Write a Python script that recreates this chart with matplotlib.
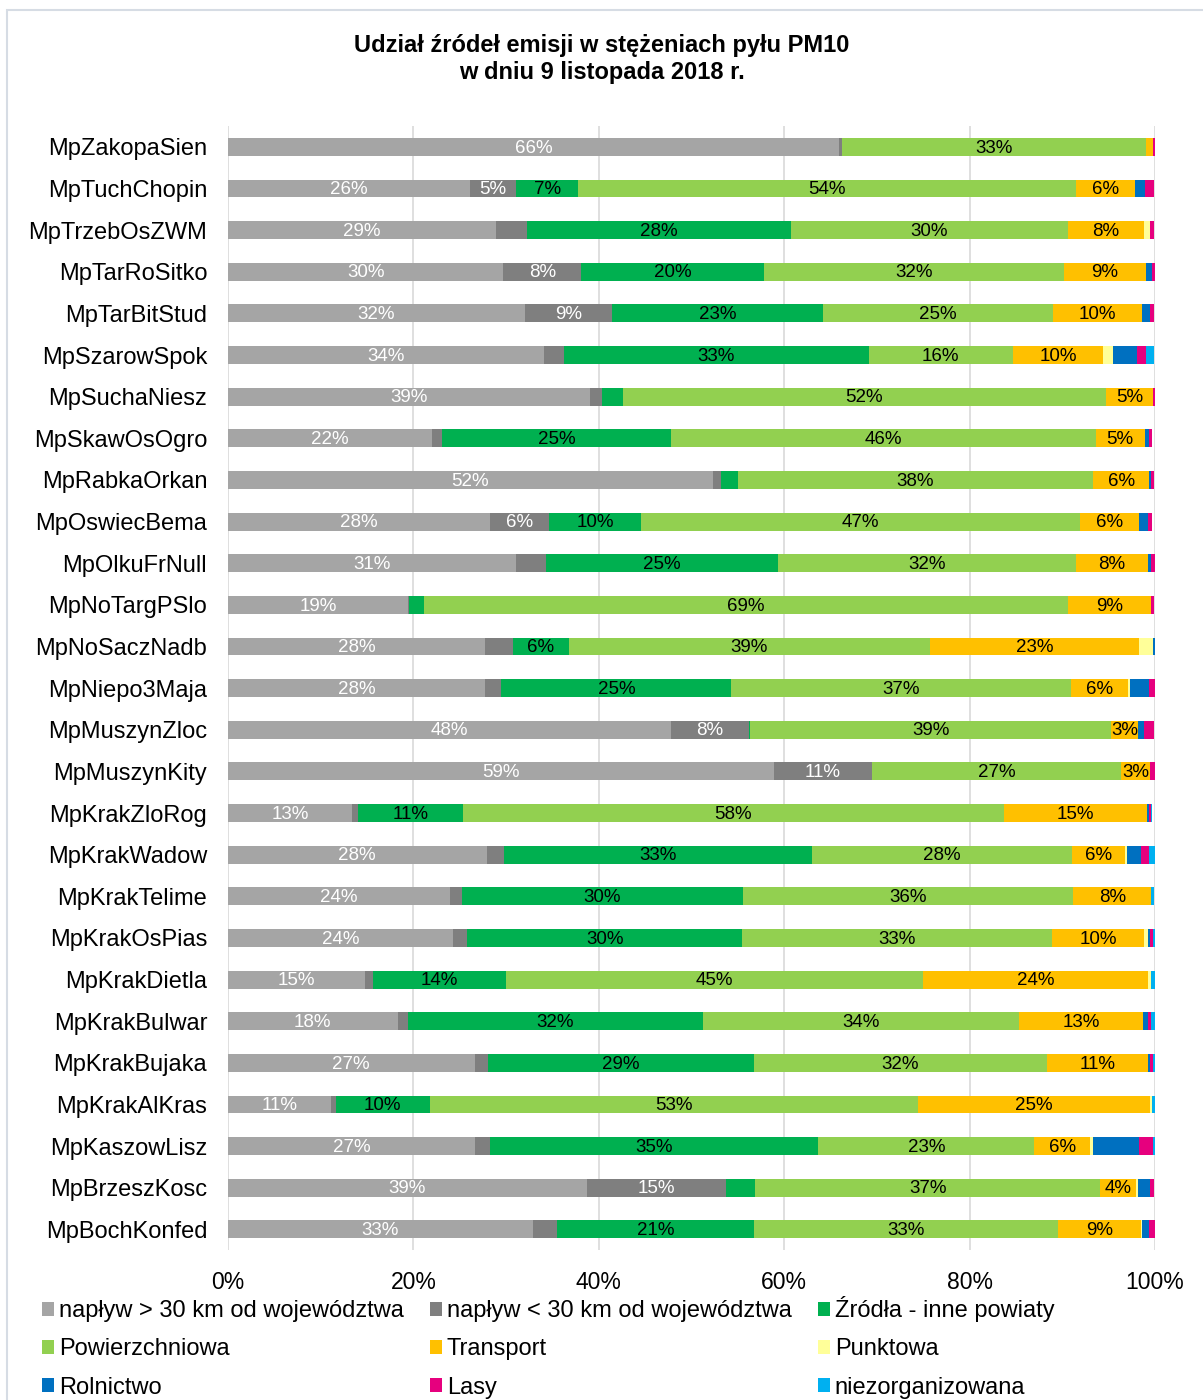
import numpy as np
import matplotlib
matplotlib.use("Agg")
import matplotlib.pyplot as plt
from matplotlib.patches import Rectangle

plt.rcParams['font.family'] = ['Liberation Sans', 'DejaVu Sans']

# stations, top to bottom
stations = ["MpZakopaSien", "MpTuchChopin", "MpTrzebOsZWM", "MpTarRoSitko", "MpTarBitStud",
            "MpSzarowSpok", "MpSuchaNiesz", "MpSkawOsOgro", "MpRabkaOrkan", "MpOswiecBema",
            "MpOlkuFrNull", "MpNoTargPSlo", "MpNoSaczNadb", "MpNiepo3Maja", "MpMuszynZloc",
            "MpMuszynKity", "MpKrakZloRog", "MpKrakWadow", "MpKrakTelime", "MpKrakOsPias",
            "MpKrakDietla", "MpKrakBulwar", "MpKrakBujaka", "MpKrakAlKras", "MpKaszowLisz",
            "MpBrzeszKosc", "MpBochKonfed"]

series_names = ["napływ > 30 km od województwa", "napływ < 30 km od województwa",
                "Źródła - inne powiaty", "Powierzchniowa", "Transport", "Punktowa",
                "Rolnictwo", "Lasy", "niezorganizowana"]

naplyw_far = [65.9, 26.1, 28.9, 29.7, 32.0, 34.1, 39.0, 22.0, 52.3, 28.3, 31.1, 19.4, 27.7, 27.7,
              47.8, 58.9, 13.4, 27.9, 23.9, 24.3, 14.8, 18.3, 26.6, 11.1, 26.7, 38.7, 32.9]
naplyw_near = [0.3, 5.0, 3.4, 8.4, 9.4, 2.2, 1.4, 1.1, 0.9, 6.3, 3.2, 0.1, 3.0, 1.8,
               8.4, 10.6, 0.6, 1.9, 1.3, 1.5, 0.8, 1.1, 1.4, 0.5, 1.6, 15.0, 2.6]
inne_powiaty = [0.0, 6.7, 28.4, 19.7, 22.8, 32.8, 2.2, 24.7, 1.8, 10.0, 25.0, 1.7, 6.1, 24.8,
                0.1, 0.0, 11.3, 33.2, 30.4, 29.7, 14.4, 31.8, 28.7, 10.2, 35.4, 3.2, 21.2]
powierzchniowa = [32.8, 53.7, 29.9, 32.4, 24.8, 15.6, 52.1, 45.8, 38.3, 47.3, 32.2, 69.4, 38.9, 36.6,
                  39.0, 26.8, 58.4, 28.1, 35.6, 33.4, 45.0, 34.1, 31.7, 52.6, 23.3, 37.2, 32.8]
transport = [0.8, 6.3, 8.2, 8.8, 9.6, 9.7, 5.1, 5.3, 6.1, 6.4, 7.7, 9.0, 22.6, 6.2,
             2.9, 3.2, 15.4, 5.7, 8.4, 9.9, 24.2, 13.4, 10.8, 25.1, 6.0, 3.8, 9.0]
punktowa = [0.0, 0.0, 0.7, 0.0, 0.0, 1.1, 0.0, 0.0, 0.0, 0.0, 0.0, 0.0, 1.5, 0.2,
            0.0, 0.0, 0.0, 0.2, 0.0, 0.4, 0.4, 0.0, 0.0, 0.2, 0.3, 0.3, 0.1]
rolnictwo = [0.0, 1.1, 0.0, 0.7, 0.9, 2.6, 0.0, 0.4, 0.2, 0.9, 0.4, 0.0, 0.2, 2.0,
             0.6, 0.0, 0.3, 1.5, 0.0, 0.3, 0.0, 0.5, 0.3, 0.0, 5.0, 1.3, 0.7]
lasy = [0.2, 1.0, 0.4, 0.3, 0.4, 0.9, 0.2, 0.4, 0.3, 0.5, 0.4, 0.3, 0.0, 0.7,
        1.1, 0.5, 0.2, 0.9, 0.0, 0.3, 0.0, 0.4, 0.3, 0.0, 1.5, 0.4, 0.7]
niezorganizowana = [0.0, 0.0, 0.0, 0.0, 0.0, 0.9, 0.0, 0.0, 0.0, 0.0, 0.0, 0.0, 0.0, 0.3,
                    0.0, 0.0, 0.1, 0.7, 0.3, 0.2, 0.4, 0.4, 0.3, 0.3, 0.2, 0.0, 0.0]

data = [naplyw_far, naplyw_near, inne_powiaty, powierzchniowa, transport,
        punktowa, rolnictwo, lasy, niezorganizowana]
colors = ["#A5A5A5", "#7F7F7F", "#00B050", "#92D050", "#FFC000",
          "#FFFF99", "#0070C0", "#E6007E", "#00B0F0"]
label_colors = ["white", "white", "black", "black", "black"]

fig = plt.figure(figsize=(12.03, 14), dpi=100)
ax = fig.add_axes([0.1895, 0.107, 0.7706, 0.803])

y = np.arange(len(stations))
left = np.zeros(len(stations))
handles = []
for i, vals in enumerate(data):
    vals = np.array(vals)
    b = ax.barh(y, vals, left=left, height=0.43, color=colors[i], zorder=3,
                label=series_names[i])
    handles.append(b)
    # Excel shows labels only on the larger segments of the first five series
    if i < 5:
        thr = 2.5 if i == 4 else 4.5
        for j, v in enumerate(vals):
            if v >= thr:
                ax.text(left[j] + v / 2, y[j] + 0.03, f"{v:.0f}%", ha="center", va="center",
                        fontsize=13.5, color=label_colors[i], zorder=4)
    left += vals

ax.set_xlim(0, 100)
ax.set_ylim(len(stations) - 0.5, -0.5)
ax.set_yticks(y)
ax.set_yticklabels(stations, fontsize=17)
ax.set_xticks(np.arange(0, 101, 20))
ax.set_xticklabels([f"{t}%" for t in range(0, 101, 20)], fontsize=16.5)
ax.tick_params(length=0, pad=15, axis="y")
ax.tick_params(length=0, pad=15, axis="x")
ax.grid(axis="x", color="#D9D9D9", linewidth=1.2, zorder=0)
for s in ax.spines.values():
    s.set_visible(False)

fig.suptitle("Udział źródeł emisji w stężeniach pyłu PM10\nw dniu 9 listopada 2018 r.",
             y=0.976, fontsize=17, fontweight="bold", linespacing=1.25)

# legend filled row by row
order = [0, 3, 6, 1, 4, 7, 2, 5, 8]
fig.legend([handles[k] for k in order], [series_names[k] for k in order],
           loc="upper left", bbox_to_anchor=(0.035, 0.074), ncol=3,
           frameon=False, fontsize=17, handlelength=0.5, handleheight=0.5,
           handletextpad=0.22, labelspacing=0.68, columnspacing=1.1,
           borderaxespad=0, borderpad=0)

fig.patches.append(Rectangle((0.006, -0.01), 1.1, 1.003, transform=fig.transFigure,
                             fill=False, edgecolor="#D6DCE4", linewidth=1.5))

fig.savefig("out.png", dpi=100)
